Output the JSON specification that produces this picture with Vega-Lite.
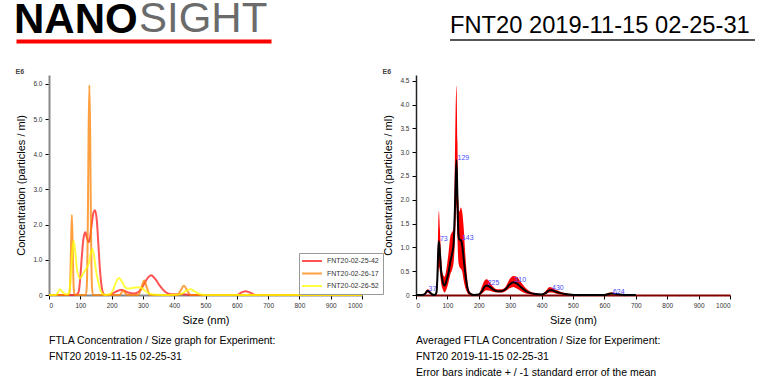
{
  "$schema": "https://vega.github.io/schema/vega-lite/v6.json",
  "background": "white",
  "padding": {"left": 14, "top": -2, "right": 5, "bottom": 0},
  "config": {
    "font": "Liberation Sans",
    "view": {"stroke": null},
    "axis": {"grid": false, "labelFont": "Liberation Sans", "labelFontSize": 6.5, "labelColor": "#333", "tickColor": "#000", "tickSize": 4, "labelPadding": 3, "titleFont": "Liberation Sans", "titleFontWeight": "normal", "titleFontSize": 11, "titleColor": "#000", "domainColor": "#888", "domainWidth": 2},
    "title": {"font": "Liberation Sans"}
  },
  "datasets": {
    "runs": [
      {"series": "FNT20-02-25-42", "size": 0, "conc": 0}, {"series": "FNT20-02-25-42", "size": 60, "conc": 0}, {"series": "FNT20-02-25-42", "size": 85, "conc": 0}, {"series": "FNT20-02-25-42", "size": 90, "conc": 0.02}, {"series": "FNT20-02-25-42", "size": 95, "conc": 0.1}, {"series": "FNT20-02-25-42", "size": 100, "conc": 0.5}, {"series": "FNT20-02-25-42", "size": 105, "conc": 1.1}, {"series": "FNT20-02-25-42", "size": 110, "conc": 1.6}, {"series": "FNT20-02-25-42", "size": 116, "conc": 1.78}, {"series": "FNT20-02-25-42", "size": 122, "conc": 1.6}, {"series": "FNT20-02-25-42", "size": 126, "conc": 1.5}, {"series": "FNT20-02-25-42", "size": 129, "conc": 1.52}, {"series": "FNT20-02-25-42", "size": 135, "conc": 1.9}, {"series": "FNT20-02-25-42", "size": 141, "conc": 2.3}, {"series": "FNT20-02-25-42", "size": 147, "conc": 2.41}, {"series": "FNT20-02-25-42", "size": 153, "conc": 2.1}, {"series": "FNT20-02-25-42", "size": 158, "conc": 1.4}, {"series": "FNT20-02-25-42", "size": 163, "conc": 0.7}, {"series": "FNT20-02-25-42", "size": 168, "conc": 0.25}, {"series": "FNT20-02-25-42", "size": 173, "conc": 0.05}, {"series": "FNT20-02-25-42", "size": 180, "conc": 0}, {"series": "FNT20-02-25-42", "size": 195, "conc": 0.01}, {"series": "FNT20-02-25-42", "size": 205, "conc": 0.05}, {"series": "FNT20-02-25-42", "size": 215, "conc": 0.1}, {"series": "FNT20-02-25-42", "size": 232, "conc": 0.14}, {"series": "FNT20-02-25-42", "size": 250, "conc": 0.08}, {"series": "FNT20-02-25-42", "size": 270, "conc": 0.04}, {"series": "FNT20-02-25-42", "size": 285, "conc": 0.08}, {"series": "FNT20-02-25-42", "size": 300, "conc": 0.25}, {"series": "FNT20-02-25-42", "size": 315, "conc": 0.48}, {"series": "FNT20-02-25-42", "size": 326, "conc": 0.56}, {"series": "FNT20-02-25-42", "size": 340, "conc": 0.45}, {"series": "FNT20-02-25-42", "size": 355, "conc": 0.25}, {"series": "FNT20-02-25-42", "size": 370, "conc": 0.1}, {"series": "FNT20-02-25-42", "size": 385, "conc": 0.03}, {"series": "FNT20-02-25-42", "size": 400, "conc": 0.02}, {"series": "FNT20-02-25-42", "size": 430, "conc": 0.02}, {"series": "FNT20-02-25-42", "size": 460, "conc": 0}, {"series": "FNT20-02-25-42", "size": 600, "conc": 0}, {"series": "FNT20-02-25-42", "size": 615, "conc": 0.07}, {"series": "FNT20-02-25-42", "size": 628, "conc": 0.11}, {"series": "FNT20-02-25-42", "size": 642, "conc": 0.07}, {"series": "FNT20-02-25-42", "size": 660, "conc": 0}, {"series": "FNT20-02-25-42", "size": 1000, "conc": 0},
      {"series": "FNT20-02-26-17", "size": 0, "conc": 0}, {"series": "FNT20-02-26-17", "size": 64, "conc": 0}, {"series": "FNT20-02-26-17", "size": 67, "conc": 0.2}, {"series": "FNT20-02-26-17", "size": 70, "conc": 1.2}, {"series": "FNT20-02-26-17", "size": 73, "conc": 2.27}, {"series": "FNT20-02-26-17", "size": 76, "conc": 1.2}, {"series": "FNT20-02-26-17", "size": 79, "conc": 0.2}, {"series": "FNT20-02-26-17", "size": 82, "conc": 0}, {"series": "FNT20-02-26-17", "size": 118, "conc": 0}, {"series": "FNT20-02-26-17", "size": 121, "conc": 0.3}, {"series": "FNT20-02-26-17", "size": 124, "conc": 2.0}, {"series": "FNT20-02-26-17", "size": 126.5, "conc": 4.6}, {"series": "FNT20-02-26-17", "size": 129, "conc": 5.96}, {"series": "FNT20-02-26-17", "size": 131.5, "conc": 4.6}, {"series": "FNT20-02-26-17", "size": 134, "conc": 2.0}, {"series": "FNT20-02-26-17", "size": 137, "conc": 0.3}, {"series": "FNT20-02-26-17", "size": 140, "conc": 0}, {"series": "FNT20-02-26-17", "size": 225, "conc": 0}, {"series": "FNT20-02-26-17", "size": 237, "conc": 0.12}, {"series": "FNT20-02-26-17", "size": 250, "conc": 0}, {"series": "FNT20-02-26-17", "size": 285, "conc": 0}, {"series": "FNT20-02-26-17", "size": 295, "conc": 0.2}, {"series": "FNT20-02-26-17", "size": 304, "conc": 0.41}, {"series": "FNT20-02-26-17", "size": 313, "conc": 0.2}, {"series": "FNT20-02-26-17", "size": 322, "conc": 0}, {"series": "FNT20-02-26-17", "size": 410, "conc": 0}, {"series": "FNT20-02-26-17", "size": 420, "conc": 0.12}, {"series": "FNT20-02-26-17", "size": 431, "conc": 0.26}, {"series": "FNT20-02-26-17", "size": 442, "conc": 0.12}, {"series": "FNT20-02-26-17", "size": 452, "conc": 0}, {"series": "FNT20-02-26-17", "size": 1000, "conc": 0},
      {"series": "FNT20-02-26-52", "size": 0, "conc": 0}, {"series": "FNT20-02-26-52", "size": 22, "conc": 0}, {"series": "FNT20-02-26-52", "size": 28, "conc": 0.06}, {"series": "FNT20-02-26-52", "size": 35, "conc": 0.16}, {"series": "FNT20-02-26-52", "size": 42, "conc": 0.1}, {"series": "FNT20-02-26-52", "size": 50, "conc": 0.03}, {"series": "FNT20-02-26-52", "size": 60, "conc": 0.02}, {"series": "FNT20-02-26-52", "size": 65, "conc": 0.1}, {"series": "FNT20-02-26-52", "size": 70, "conc": 0.6}, {"series": "FNT20-02-26-52", "size": 75, "conc": 1.3}, {"series": "FNT20-02-26-52", "size": 79, "conc": 1.54}, {"series": "FNT20-02-26-52", "size": 84, "conc": 1.2}, {"series": "FNT20-02-26-52", "size": 90, "conc": 0.7}, {"series": "FNT20-02-26-52", "size": 99, "conc": 0.47}, {"series": "FNT20-02-26-52", "size": 105, "conc": 0.55}, {"series": "FNT20-02-26-52", "size": 112, "conc": 0.65}, {"series": "FNT20-02-26-52", "size": 120, "conc": 0.76}, {"series": "FNT20-02-26-52", "size": 127, "conc": 0.9}, {"series": "FNT20-02-26-52", "size": 134, "conc": 1.2}, {"series": "FNT20-02-26-52", "size": 139, "conc": 1.31}, {"series": "FNT20-02-26-52", "size": 144, "conc": 1.1}, {"series": "FNT20-02-26-52", "size": 150, "conc": 0.7}, {"series": "FNT20-02-26-52", "size": 158, "conc": 0.35}, {"series": "FNT20-02-26-52", "size": 165, "conc": 0.12}, {"series": "FNT20-02-26-52", "size": 172, "conc": 0.03}, {"series": "FNT20-02-26-52", "size": 180, "conc": 0}, {"series": "FNT20-02-26-52", "size": 195, "conc": 0.02}, {"series": "FNT20-02-26-52", "size": 205, "conc": 0.15}, {"series": "FNT20-02-26-52", "size": 215, "conc": 0.38}, {"series": "FNT20-02-26-52", "size": 224, "conc": 0.48}, {"series": "FNT20-02-26-52", "size": 233, "conc": 0.38}, {"series": "FNT20-02-26-52", "size": 243, "conc": 0.22}, {"series": "FNT20-02-26-52", "size": 253, "conc": 0.18}, {"series": "FNT20-02-26-52", "size": 265, "conc": 0.2}, {"series": "FNT20-02-26-52", "size": 280, "conc": 0.22}, {"series": "FNT20-02-26-52", "size": 296, "conc": 0.2}, {"series": "FNT20-02-26-52", "size": 310, "conc": 0.1}, {"series": "FNT20-02-26-52", "size": 325, "conc": 0.03}, {"series": "FNT20-02-26-52", "size": 340, "conc": 0.01}, {"series": "FNT20-02-26-52", "size": 380, "conc": 0}, {"series": "FNT20-02-26-52", "size": 420, "conc": 0.02}, {"series": "FNT20-02-26-52", "size": 435, "conc": 0.1}, {"series": "FNT20-02-26-52", "size": 452, "conc": 0.16}, {"series": "FNT20-02-26-52", "size": 465, "conc": 0.1}, {"series": "FNT20-02-26-52", "size": 480, "conc": 0.03}, {"series": "FNT20-02-26-52", "size": 495, "conc": 0}, {"series": "FNT20-02-26-52", "size": 1000, "conc": 0}
    ],
    "avg": [
      {"size": 0, "mean": 0, "lo": 0, "hi": 0}, {"size": 20, "mean": 0, "lo": 0, "hi": 0}, {"size": 28, "mean": 0.02, "lo": 0.01, "hi": 0.04}, {"size": 37, "mean": 0.09, "lo": 0.05, "hi": 0.12}, {"size": 45, "mean": 0.05, "lo": 0.02, "hi": 0.08}, {"size": 52, "mean": 0.01, "lo": 0, "hi": 0.02}, {"size": 60, "mean": 0, "lo": 0, "hi": 0.01}, {"size": 65, "mean": 0.05, "lo": 0.01, "hi": 0.1}, {"size": 68, "mean": 0.35, "lo": 0.15, "hi": 0.6}, {"size": 71, "mean": 0.95, "lo": 0.5, "hi": 1.5}, {"size": 73, "mean": 1.13, "lo": 0.6, "hi": 1.77}, {"size": 76, "mean": 0.9, "lo": 0.5, "hi": 1.4}, {"size": 80, "mean": 0.5, "lo": 0.25, "hi": 0.8}, {"size": 85, "mean": 0.28, "lo": 0.12, "hi": 0.45}, {"size": 91, "mean": 0.2, "lo": 0.05, "hi": 0.38}, {"size": 97, "mean": 0.3, "lo": 0.12, "hi": 0.55}, {"size": 103, "mean": 0.45, "lo": 0.25, "hi": 0.85}, {"size": 110, "mean": 0.72, "lo": 0.45, "hi": 1.25}, {"size": 116, "mean": 0.9, "lo": 0.55, "hi": 1.33}, {"size": 120, "mean": 1.1, "lo": 0.7, "hi": 1.4}, {"size": 123, "mean": 1.6, "lo": 1.0, "hi": 2.4}, {"size": 126, "mean": 2.3, "lo": 1.5, "hi": 3.8}, {"size": 129, "mean": 2.83, "lo": 1.9, "hi": 4.4}, {"size": 132, "mean": 2.0, "lo": 1.2, "hi": 3.2}, {"size": 135, "mean": 1.3, "lo": 0.7, "hi": 2.0}, {"size": 138, "mean": 1.17, "lo": 0.6, "hi": 1.75}, {"size": 143, "mean": 1.15, "lo": 0.55, "hi": 1.84}, {"size": 147, "mean": 1.05, "lo": 0.5, "hi": 1.75}, {"size": 152, "mean": 0.75, "lo": 0.3, "hi": 1.4}, {"size": 157, "mean": 0.45, "lo": 0.15, "hi": 0.85}, {"size": 163, "mean": 0.17, "lo": 0.05, "hi": 0.35}, {"size": 168, "mean": 0.06, "lo": 0.01, "hi": 0.12}, {"size": 175, "mean": 0.02, "lo": 0, "hi": 0.04}, {"size": 185, "mean": 0, "lo": 0, "hi": 0.01}, {"size": 200, "mean": 0.01, "lo": 0, "hi": 0.02}, {"size": 210, "mean": 0.08, "lo": 0.03, "hi": 0.18}, {"size": 218, "mean": 0.17, "lo": 0.08, "hi": 0.3}, {"size": 225, "mean": 0.2, "lo": 0.1, "hi": 0.33}, {"size": 235, "mean": 0.17, "lo": 0.09, "hi": 0.27}, {"size": 245, "mean": 0.12, "lo": 0.07, "hi": 0.18}, {"size": 258, "mean": 0.08, "lo": 0.05, "hi": 0.12}, {"size": 272, "mean": 0.08, "lo": 0.05, "hi": 0.12}, {"size": 285, "mean": 0.12, "lo": 0.08, "hi": 0.17}, {"size": 298, "mean": 0.22, "lo": 0.14, "hi": 0.33}, {"size": 310, "mean": 0.27, "lo": 0.17, "hi": 0.4}, {"size": 322, "mean": 0.24, "lo": 0.13, "hi": 0.38}, {"size": 335, "mean": 0.16, "lo": 0.08, "hi": 0.26}, {"size": 350, "mean": 0.08, "lo": 0.03, "hi": 0.14}, {"size": 365, "mean": 0.04, "lo": 0.01, "hi": 0.07}, {"size": 380, "mean": 0.02, "lo": 0, "hi": 0.04}, {"size": 400, "mean": 0.01, "lo": 0, "hi": 0.02}, {"size": 415, "mean": 0.05, "lo": 0.02, "hi": 0.1}, {"size": 425, "mean": 0.1, "lo": 0.05, "hi": 0.17}, {"size": 432, "mean": 0.1, "lo": 0.05, "hi": 0.16}, {"size": 445, "mean": 0.07, "lo": 0.03, "hi": 0.11}, {"size": 460, "mean": 0.04, "lo": 0.01, "hi": 0.07}, {"size": 475, "mean": 0.02, "lo": 0, "hi": 0.04}, {"size": 490, "mean": 0.01, "lo": 0, "hi": 0.02}, {"size": 510, "mean": 0, "lo": 0, "hi": 0}, {"size": 600, "mean": 0, "lo": 0, "hi": 0}, {"size": 612, "mean": 0.02, "lo": 0.01, "hi": 0.04}, {"size": 624, "mean": 0.03, "lo": 0.01, "hi": 0.05}, {"size": 638, "mean": 0.02, "lo": 0.01, "hi": 0.04}, {"size": 650, "mean": 0.01, "lo": 0, "hi": 0.02}, {"size": 665, "mean": 0, "lo": 0, "hi": 0}, {"size": 700, "mean": 0, "lo": 0, "hi": 0}
    ],
    "peaks": [
      {"size": 37, "conc": 0.09, "label": "37"}, {"size": 73, "conc": 1.13, "label": "73"}, {"size": 129, "conc": 2.83, "label": "129"}, {"size": 143, "conc": 1.15, "label": "143"}, {"size": 225, "conc": 0.2, "label": "225"}, {"size": 310, "conc": 0.27, "label": "310"}, {"size": 430, "conc": 0.1, "label": "430"}, {"size": 624, "conc": 0.03, "label": "624"}
    ]
  },
  "columns": 1,
  "align": "none",
  "bounds": "full",
  "spacing": 23,
  "concat": [
    {
      "bounds": "flush",
      "spacing": 179,
      "title": {"text": "SIGHT", "anchor": "start", "frame": "bounds", "fontSize": 42, "fontWeight": "normal", "color": "#6b6b6b", "dx": 125, "dy": 42, "offset": 0},
      "hconcat": [
        {
          "title": {"text": "NANO", "anchor": "start", "frame": "bounds", "fontSize": 42, "fontWeight": "bold", "color": "#000000", "offset": -4},
          "width": 222,
          "height": 4,
          "data": {"values": [{"k": 0.5}]},
          "mark": {"type": "point", "opacity": 0},
          "encoding": {
            "y": {"field": "k", "type": "quantitative", "scale": {"domain": [0, 1], "nice": false}, "axis": {"orient": "left", "values": [0.5], "domain": false, "labels": false, "title": null, "ticks": true, "tickSize": 255, "tickWidth": 4, "tickColor": "#ff0000", "tickCap": "butt", "offset": -222}}
          }
        },
        {
          "title": {"text": "FNT20 2019-11-15 02-25-31", "anchor": "start", "fontSize": 23.7, "fontWeight": "normal", "color": "#000000", "offset": 0},
          "width": 305,
          "height": 2,
          "data": {"values": [{"k": 1}]},
          "mark": {"type": "point", "opacity": 0},
          "view": {"fill": "#555555", "stroke": null}
        }
      ]
    },
    {
      "bounds": "full",
      "spacing": 16,
      "hconcat": [
        {
          "title": {"text": ["FTLA Concentration / Size graph for Experiment:", "FNT20 2019-11-15 02-25-31"], "orient": "bottom", "anchor": "start", "frame": "group", "fontSize": 10.5, "fontWeight": "normal", "lineHeight": 16, "offset": 10},
          "width": 313,
          "height": 220,
          "data": {"name": "runs"},
          "encoding": {
            "x": {"field": "size", "type": "quantitative", "scale": {"domain": [0, 1000], "nice": false}, "axis": {"values": [0, 100, 200, 300, 400, 500, 600, 700, 800, 900, 1000], "format": "d", "title": "Size (nm)", "titlePadding": 6}}
          },
          "resolve": {"axis": {"y": "independent"}},
          "layer": [
            {
              "mark": {"type": "line", "interpolate": "monotone", "strokeWidth": 2, "opacity": 0.75},
              "encoding": {
                "y": {"field": "conc", "type": "quantitative", "scale": {"domain": [0, 6.25], "nice": false}, "axis": {"orient": "left", "values": [0, 1, 2, 3, 4, 5, 6], "labelExpr": "datum.value == 0 ? '0' : format(datum.value, '.1f')", "title": "Concentration (particles / ml)", "titlePadding": 6}},
                "color": {"field": "series", "type": "nominal", "scale": {"domain": ["FNT20-02-25-42", "FNT20-02-26-17", "FNT20-02-26-52"], "range": ["#ff1a1a", "#ff8000", "#ffff00"]}, "legend": {"orient": "none", "legendX": 250, "legendY": 214, "title": null, "symbolType": "M-3,0H3", "symbolSize": 44, "symbolStrokeWidth": 2, "symbolOffset": 5, "labelOffset": 10.5, "labelFontSize": 7, "labelColor": "#333", "strokeColor": "#999", "fillColor": "white", "padding": 3.5, "rowPadding": 3.5}}
              }
            },
            {
              "mark": {"type": "point", "opacity": 0},
              "encoding": {
                "y": {"field": "conc", "type": "quantitative", "axis": {"orient": "left", "domain": false, "ticks": false, "labels": false, "title": "E6", "titleAngle": 0, "titleX": -34, "titleY": -1, "titleAlign": "left", "titleBaseline": "bottom", "titleFontSize": 7, "titleFontWeight": "bold", "titleColor": "#444"}}
              }
            }
          ]
        },
        {
          "title": {"text": ["Averaged FTLA Concentration / Size for Experiment:", "FNT20 2019-11-15 02-25-31", "Error bars indicate + / -1 standard error of the mean"], "orient": "bottom", "anchor": "start", "frame": "group", "fontSize": 10.5, "fontWeight": "normal", "lineHeight": 16, "offset": 10},
          "width": 314,
          "height": 220,
          "encoding": {
            "x": {"field": "size", "type": "quantitative", "scale": {"domain": [0, 1000], "nice": false}, "axis": {"values": [0, 100, 200, 300, 400, 500, 600, 700, 800, 900, 1000], "format": "d", "title": "Size (nm)", "titlePadding": 6, "domainColor": "#800000"}}
          },
          "resolve": {"axis": {"y": "independent"}},
          "layer": [
            {
              "data": {"name": "avg"},
              "mark": {"type": "area", "interpolate": "monotone", "color": "#ff0000"},
              "encoding": {
                "y": {"field": "lo", "type": "quantitative", "scale": {"domain": [0, 4.62], "nice": false}, "axis": {"orient": "left", "values": [0, 0.5, 1, 1.5, 2, 2.5, 3, 3.5, 4, 4.5], "labelExpr": "datum.value == 0 ? '0' : format(datum.value, '.1f')", "title": "Concentration (particles / ml)", "titlePadding": 6, "domainColor": "#222", "domainWidth": 1.5}},
                "y2": {"field": "hi"}
              }
            },
            {
              "data": {"name": "avg"},
              "mark": {"type": "line", "interpolate": "monotone", "color": "#000000", "strokeWidth": 2},
              "encoding": {"y": {"field": "mean", "type": "quantitative", "axis": null}}
            },
            {
              "data": {"name": "peaks"},
              "mark": {"type": "text", "align": "left", "baseline": "alphabetic", "dx": 1, "fontSize": 7, "color": "#4a4aff"},
              "encoding": {
                "y": {"field": "conc", "type": "quantitative", "axis": {"orient": "left", "domain": false, "ticks": false, "labels": false, "title": "E6", "titleAngle": 0, "titleX": -34, "titleY": -1, "titleAlign": "left", "titleBaseline": "bottom", "titleFontSize": 7, "titleFontWeight": "bold", "titleColor": "#444"}},
                "text": {"field": "label"}
              }
            }
          ]
        }
      ]
    }
  ]
}
